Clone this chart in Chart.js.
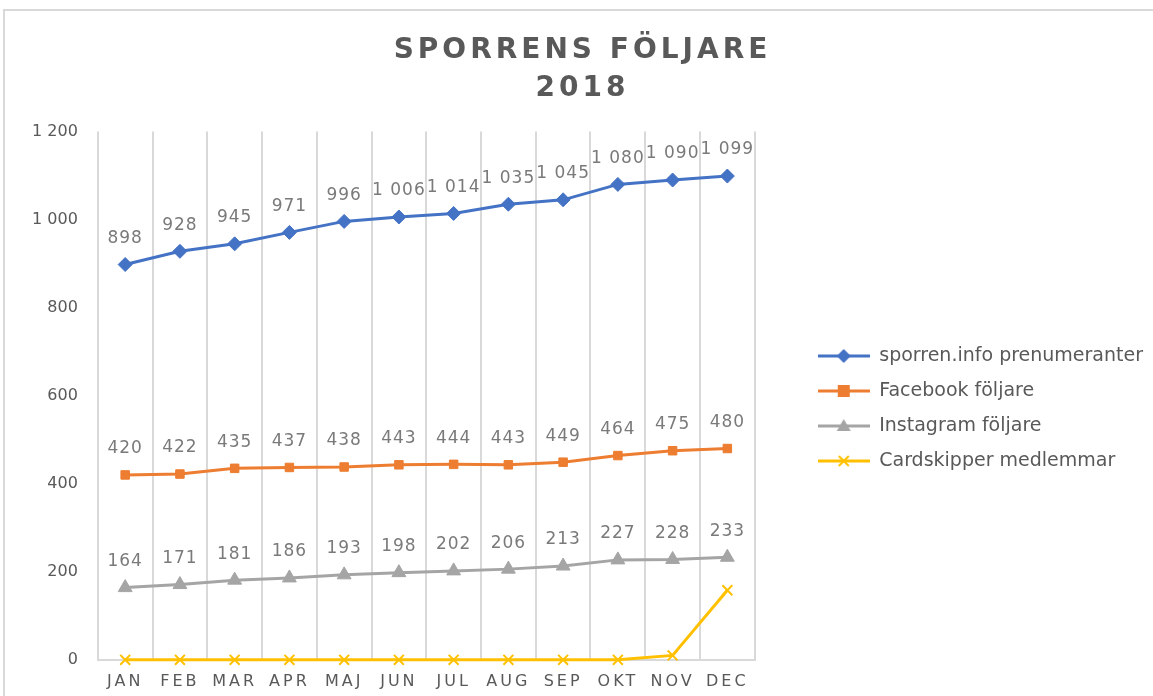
<!DOCTYPE html>
<html>
<head>
<meta charset="utf-8">
<script src="https://cdn.jsdelivr.net/npm/chart.js@4.4.1/dist/chart.umd.min.js"></script>
<style>
html, body { margin:0; padding:0; background:#ffffff; overflow:hidden; }
#frame { position:absolute; left:3px; top:9px; width:1200px; height:720px; border:2px solid #d9d9d9; }
#wrap { position:absolute; left:0; top:0; width:1153px; height:703px; }
</style>
</head>
<body>
<div id="frame"></div>
<div id="wrap"><canvas id="followersChart"></canvas></div>
<script>
// =========================================
// Data
// =========================================

const months = ["JAN","FEB","MAR","APR","MAJ","JUN","JUL","AUG","SEP","OKT","NOV","DEC"];

const sporrenInfo = [898, 928, 945, 971, 996, 1006, 1014, 1035, 1045, 1080, 1090, 1099];
const facebook    = [420, 422, 435, 437, 438, 443, 444, 443, 449, 464, 475, 480];
const instagram   = [164, 171, 181, 186, 193, 198, 202, 206, 213, 227, 228, 233];
const cardskipper = [0, 0, 0, 0, 0, 0, 0, 0, 0, 0, 10, 158];

const yTicks = [0, 200, 400, 600, 800, 1000, 1200];

const textGrey = "#595959";
const fontFam = "'DejaVu Sans', Verdana, sans-serif";

// thousands with a plain space: 1 006
function fmt(v){
    return String(v).replace(/\B(?=(\d{3})+(?!\d))/g, " ");
}

// =========================================
// Legend icons (line + marker)
// =========================================

function legendIcon(color, shape){
    const c = document.createElement("canvas");
    c.width = 52; c.height = 18;
    const g = c.getContext("2d");
    g.strokeStyle = color;
    g.fillStyle = color;
    g.lineWidth = 3;
    g.beginPath(); g.moveTo(0, 9); g.lineTo(52, 9); g.stroke();
    g.beginPath();
    if(shape === "diamond"){
        g.moveTo(26, 2); g.lineTo(33, 9); g.lineTo(26, 16); g.lineTo(19, 9); g.closePath(); g.fill();
    } else if(shape === "square"){
        g.fillRect(20, 3, 12, 12);
    } else if(shape === "triangle"){
        g.moveTo(26, 2); g.lineTo(33, 14); g.lineTo(19, 14); g.closePath(); g.fill();
    } else {
        g.lineWidth = 2;
        g.moveTo(21, 4); g.lineTo(31, 14); g.moveTo(31, 4); g.lineTo(21, 14); g.stroke();
    }
    return c;
}

const icons = [
    legendIcon("#4472C4", "diamond"),
    legendIcon("#ED7D31", "square"),
    legendIcon("#A5A5A5", "triangle"),
    legendIcon("#FFC000", "cross")
];

// =========================================
// x axis with spaced letters
// =========================================

class SpacedCategoryScale extends Chart.CategoryScale {
    drawLabels(area){
        this.ctx.save();
        this.ctx.letterSpacing = "3px";
        super.drawLabels(area);
        this.ctx.restore();
    }
}
SpacedCategoryScale.id = "spacedCategory";
SpacedCategoryScale.defaults = Chart.CategoryScale.defaults;
Chart.register(SpacedCategoryScale);

// =========================================
// Plugins
// =========================================

const spacedTitle = {
    id: "spacedTitle",
    beforeDraw(chart){
        const tb = chart.titleBlock;
        if(tb && !tb._spaced){
            const orig = tb.draw.bind(tb);
            tb.draw = function(){
                chart.ctx.save();
                chart.ctx.letterSpacing = "4px";
                orig();
                chart.ctx.restore();
            };
            tb._spaced = true;
        }
    }
};

const valueLabels = {
    id: "valueLabels",
    afterDatasetsDraw(chart){
        const ctx = chart.ctx;
        ctx.save();
        ctx.font = "17px " + fontFam;
        ctx.fillStyle = "#7a7a7a";
        ctx.textAlign = "center";
        ctx.textBaseline = "middle";
        ctx.letterSpacing = "1px";
        [0, 1, 2].forEach(i => {
            const ds = chart.data.datasets[i];
            chart.getDatasetMeta(i).data.forEach((pt, j) => {
                ctx.fillText(fmt(ds.data[j]), pt.x, pt.y - 26);
            });
        });
        ctx.restore();
    }
};

// =========================================
// Chart
// =========================================

new Chart(document.getElementById("followersChart"), {
    type: "line",
    data: {
        labels: months,
        datasets: [
            { label: "sporren.info prenumeranter", data: sporrenInfo, borderColor: "#4472C4", backgroundColor: "#4472C4",
              pointStyle: "rectRot", pointRadius: 7, pointHoverRadius: 7 },
            { label: "Facebook följare", data: facebook, borderColor: "#ED7D31", backgroundColor: "#ED7D31",
              pointStyle: "rect", pointRadius: 6, pointHoverRadius: 6 },
            { label: "Instagram följare", data: instagram, borderColor: "#A5A5A5", backgroundColor: "#A5A5A5",
              pointStyle: "triangle", pointRadius: 8, pointHoverRadius: 8 },
            { label: "Cardskipper medlemmar", data: cardskipper, borderColor: "#FFC000", backgroundColor: "#FFC000",
              pointStyle: "crossRot", pointRadius: 7, pointHoverRadius: 7, pointBorderWidth: 2, clip: false }
        ]
    },
    options: {
        responsive: true,
        maintainAspectRatio: false,
        animation: false,
        elements: {
            line: { borderWidth: 3, tension: 0 }
        },
        layout: {
            padding: { left: 12, right: 0, top: 32, bottom: 0 }
        },
        plugins: {
            title: {
                display: true,
                text: ["SPORRENS FÖLJARE", "2018"],
                color: textGrey,
                font: { family: fontFam, size: 28, weight: "bold", lineHeight: 1.35 },
                padding: { top: 0, bottom: 24 }
            },
            legend: {
                position: "right",
                maxWidth: 420,
                title: { display: true, text: "", padding: { top: 70, bottom: 0 }, font: { size: 10 } },
                labels: {
                    usePointStyle: true,
                    pointStyleWidth: 52,
                    color: textGrey,
                    padding: 16,
                    font: { family: fontFam, size: 19 },
                    generateLabels(chart){
                        const items = Chart.defaults.plugins.legend.labels.generateLabels(chart);
                        items.forEach((it, i) => { it.pointStyle = icons[i]; });
                        return items;
                    }
                }
            },
            tooltip: { enabled: false }
        },
        scales: {
            x: {
                type: "spacedCategory",
                offset: true,
                grid: { offset: true, color: "#d9d9d9", lineWidth: 2, drawTicks: false },
                border: { color: "#d9d9d9", width: 2 },
                ticks: { color: textGrey, font: { family: fontFam, size: 16 }, padding: 12, maxRotation: 0 }
            },
            y: {
                min: 0,
                max: 1200,
                afterBuildTicks(scale){
                    scale.ticks = yTicks.map(v => ({ value: v }));
                },
                grid: { display: false, drawTicks: false },
                border: { display: false },
                ticks: {
                    color: textGrey,
                    font: { family: fontFam, size: 16 },
                    padding: 20,
                    callback: v => fmt(v)
                }
            },
            // empty axis, only keeps the gap between plot and legend
            gap: {
                position: "right",
                grid: { display: false, drawTicks: false },
                border: { display: false },
                ticks: { display: false },
                afterFit(scale){ scale.width = 47; }
            }
        }
    },
    plugins: [spacedTitle, valueLabels]
});
</script>
</body>
</html>
